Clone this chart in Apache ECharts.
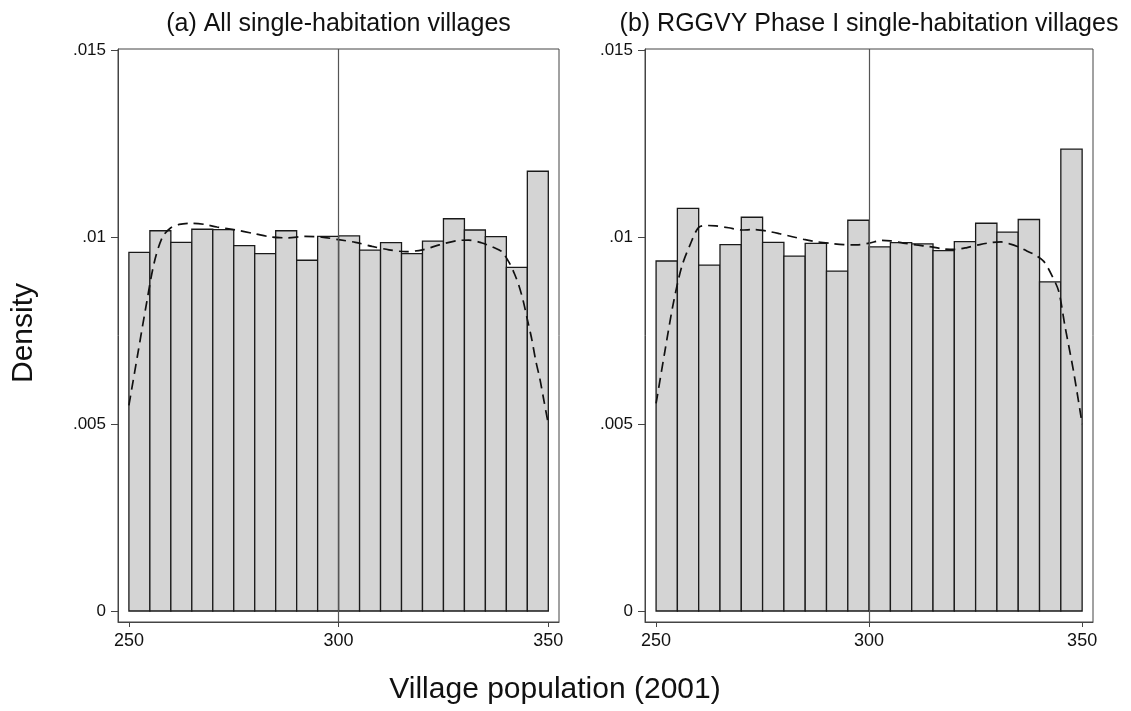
<!DOCTYPE html>
<html>
<head>
<meta charset="utf-8">
<title>Village population histograms</title>
<script src="https://cdn.jsdelivr.net/npm/echarts@6/dist/echarts.min.js"></script>
<style>
  html, body { margin: 0; padding: 0; background: #fff; }
  #chart { width: 1131px; height: 711px; }
</style>
</head>
<body>
<div id="chart"></div>
<script>
// Histogram bins (left edges, width 5) for village population 250–350
const binStarts = [250, 255, 260, 265, 270, 275, 280, 285, 290, 295,
                   300, 305, 310, 315, 320, 325, 330, 335, 340, 345];
const binWidth = 5;

// Panel (a): all single-habitation villages — bar densities
const densityAllBars = [0.00959, 0.01017, 0.00986, 0.01021, 0.01020, 0.00977, 0.00956, 0.01017, 0.00938, 0.01002,
                        0.01003, 0.00965, 0.00985, 0.00956, 0.00989, 0.01049, 0.01019, 0.01001, 0.00919, 0.01176];

// Panel (b): RGGVY Phase I single-habitation villages — bar densities
const densityPhaseBars = [0.00936, 0.01077, 0.00925, 0.00980, 0.01053, 0.00986, 0.00949, 0.00983, 0.00909, 0.01045,
                          0.00974, 0.00985, 0.00982, 0.00964, 0.00988, 0.01037, 0.01013, 0.01047, 0.00880, 0.01235];

// Kernel density estimates (dashed curves)
const kdeAllX = [250, 252, 254, 256, 258, 260, 262, 265, 268, 271, 275, 280, 284, 288, 292, 296, 300,
                 304, 308, 312, 316, 320, 324, 328, 331, 334, 337, 339, 341, 342, 343, 344, 345, 346, 347, 348, 349, 350];
const kdeAllY = [0.0055, 0.0068, 0.0081, 0.0093, 0.0100, 0.01025, 0.01034, 0.01037, 0.01034, 0.01027, 0.01020,
                 0.01009, 0.01000, 0.00998, 0.01002, 0.01000, 0.00993, 0.00986, 0.00975, 0.00966, 0.00961,
                 0.00966, 0.00979, 0.00990, 0.00992, 0.00985, 0.00972, 0.00960, 0.00925, 0.00900, 0.00870,
                 0.00830, 0.00780, 0.00730, 0.00670, 0.00620, 0.00560, 0.00500];

const kdePhaseX = [250, 252, 254, 256, 258, 260, 262, 264, 267, 270, 273, 276, 279, 282, 285, 288, 291, 294, 297,
                   300, 303, 305, 308, 311, 314, 317, 320, 323, 326, 329, 331, 333, 335, 337, 339, 341, 343,
                   344.5, 346, 348, 350];
const kdePhaseY = [0.00555, 0.0069, 0.0082, 0.0092, 0.0098, 0.01026, 0.01031, 0.01030, 0.01025, 0.01019, 0.01020,
                   0.01016, 0.01009, 0.01001, 0.00993, 0.00987, 0.00983, 0.00980, 0.00979, 0.00984, 0.00991,
                   0.00990, 0.00984, 0.00979, 0.00975, 0.00969, 0.00967, 0.00972, 0.00980, 0.00986, 0.00987,
                   0.00982, 0.00974, 0.00963, 0.00952, 0.00935, 0.00895, 0.00855, 0.00760, 0.00640, 0.00500];

// Axis tick labels
const xTicks = [250, 300, 350];
const yTicks = [0, 0.005, 0.01, 0.015];
const yTickText = ['0', '.005', '.01', '.015'];
const cutoff = 300;

const panelTitles = ['(a) All single-habitation villages', '(b) RGGVY Phase I single-habitation villages'];
const yTitle = 'Density';
const xTitle = 'Village population (2001)';

const FONT = '"Liberation Sans", Arial, Helvetica, sans-serif';
const AXIS_COLOR = '#444';
const TEXT_COLOR = '#111';

const grids = [
  { left: 118, top: 49, width: 441, height: 573 },
  { left: 645, top: 49, width: 448, height: 573 }
];

function histData(values) {
  return binStarts.map((s, i) => [s, s + binWidth, values[i]]);
}

function pairs(xs, ys) {
  return xs.map((x, i) => [x, ys[i]]);
}

function renderBar(params, api) {
  const x0 = api.value(0), x1 = api.value(1), v = api.value(2);
  const topLeft = api.coord([x0, v]);
  const bottomRight = api.coord([x1, 0]);
  return {
    type: 'rect',
    shape: {
      x: topLeft[0],
      y: topLeft[1],
      width: bottomRight[0] - topLeft[0],
      height: bottomRight[1] - topLeft[1]
    },
    style: { fill: '#d4d4d4', stroke: '#1a1a1a', lineWidth: 1.3 }
  };
}

function xAxisFor(i) {
  return {
    type: 'value', gridIndex: i,
    min: 247.4, max: 352.55,
    axisLine: { show: true, onZero: false, lineStyle: { color: AXIS_COLOR, width: 1 } },
    axisTick: { show: true, length: 5, customValues: xTicks, lineStyle: { color: AXIS_COLOR } },
    axisLabel: { show: true, customValues: xTicks, color: TEXT_COLOR, fontSize: 18, fontFamily: FONT, margin: 10 },
    splitLine: { show: false }
  };
}

function yAxisFor(i) {
  return {
    type: 'value', gridIndex: i,
    min: -0.000294, max: 0.01503,
    axisLine: { show: true, onZero: false, lineStyle: { color: AXIS_COLOR, width: 1 } },
    axisTick: { show: true, length: 7, customValues: yTicks, lineStyle: { color: AXIS_COLOR } },
    axisLabel: {
      show: true, customValues: yTicks, color: TEXT_COLOR, fontSize: 17, fontFamily: FONT, margin: 12,
      formatter: v => {
        const k = yTicks.findIndex(t => Math.abs(t - v) < 1e-9);
        return k >= 0 ? yTickText[k] : '';
      }
    },
    splitLine: { show: false }
  };
}

const barSets = [densityAllBars, densityPhaseBars];
const kdeSets = [pairs(kdeAllX, kdeAllY), pairs(kdePhaseX, kdePhaseY)];

const series = [];
[0, 1].forEach(i => {
  series.push({
    type: 'custom', xAxisIndex: i, yAxisIndex: i,
    renderItem: renderBar,
    encode: { x: [0, 1], y: 2 },
    data: histData(barSets[i]),
    silent: true, z: 2
  });
  series.push({
    type: 'line', xAxisIndex: i, yAxisIndex: i,
    data: kdeSets[i],
    smooth: 0.3, showSymbol: false, symbol: 'none',
    lineStyle: { color: '#111', width: 1.7, type: [10, 6] },
    silent: true, z: 4,
    markLine: {
      silent: true, symbol: 'none',
      label: { show: false },
      lineStyle: { color: '#555', width: 1.2, type: 'solid' },
      data: [{ xAxis: cutoff }]
    }
  });
});

function centreX(g) { return g.left + g.width / 2; }

const chart = echarts.init(document.getElementById('chart'), null, { renderer: 'canvas' });
chart.setOption({
  backgroundColor: '#fff',
  animation: false,
  grid: grids.map(g => Object.assign({ show: true, borderColor: AXIS_COLOR, borderWidth: 1, backgroundColor: 'transparent' }, g)),
  xAxis: [xAxisFor(0), xAxisFor(1)],
  yAxis: [yAxisFor(0), yAxisFor(1)],
  graphic: [
    { type: 'text', x: centreX(grids[0]), y: 24,
      style: { text: panelTitles[0], fontSize: 25, fontFamily: FONT, fill: TEXT_COLOR, align: 'center', verticalAlign: 'middle' } },
    { type: 'text', x: centreX(grids[1]), y: 24,
      style: { text: panelTitles[1], fontSize: 25, fontFamily: FONT, fill: TEXT_COLOR, align: 'center', verticalAlign: 'middle' } },
    { type: 'text', x: 24, y: 333, rotation: Math.PI / 2,
      style: { text: yTitle, fontSize: 30, fontFamily: FONT, fill: TEXT_COLOR, align: 'center', verticalAlign: 'middle' } },
    { type: 'text', x: 555, y: 690,
      style: { text: xTitle, fontSize: 30, fontFamily: FONT, fill: TEXT_COLOR, align: 'center', verticalAlign: 'middle' } }
  ],
  series: series
});
</script>
</body>
</html>
